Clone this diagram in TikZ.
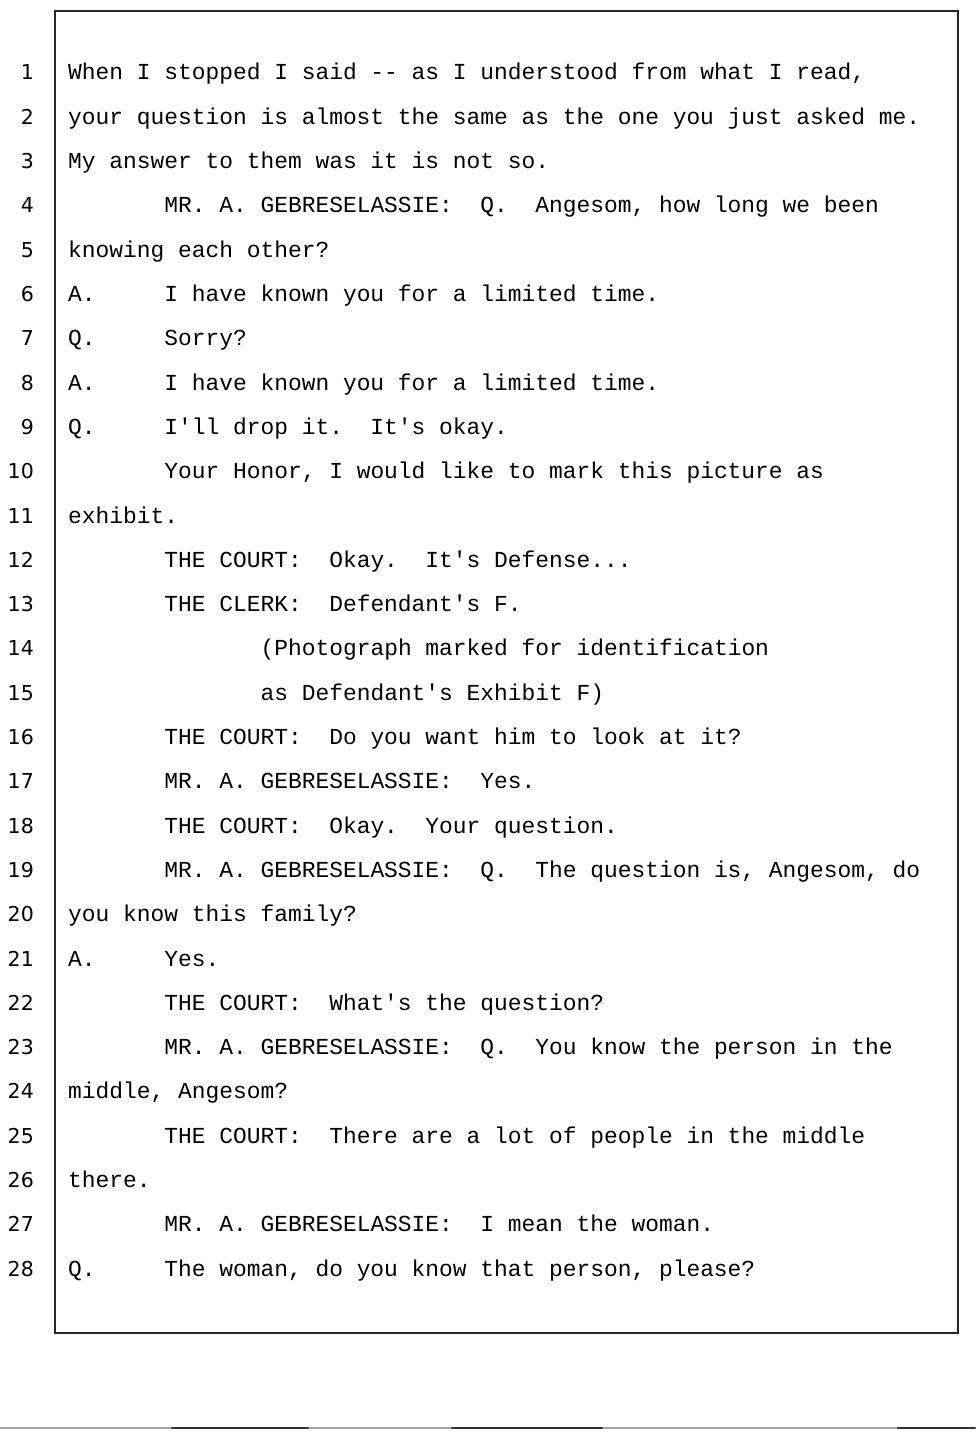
\documentclass[tikz,border=0pt]{standalone}
\usepackage{fontspec}
\setmonofont{Liberation Mono}
\newfontfamily\numfont{DejaVu Sans}
\begin{document}
\frenchspacing
\begin{tikzpicture}[x=1pt,y=-1pt,
  txt/.style={anchor=base west, inner sep=0pt, font=\ttfamily\fontsize{22.9}{22.9}\selectfont},
  num/.style={anchor=base east, inner sep=0pt, font=\numfont\fontsize{20.5}{20.5}\selectfont},
  frame/.style={line width=1.6pt, draw=black!85},
  pageline/.style={line width=1.2pt, draw=black!35, line cap=butt},
  pagedark/.style={line width=2.2pt, draw=black!80, line cap=round}]
\useasboundingbox (0,0) rectangle (975,1439);
\fill[white] (0,0) rectangle (975,1439);
% frame
\draw[frame] (55,11) rectangle (958,1333);
% page bottom line
\draw[pageline] (0,1428) -- (975,1428);
\draw[pagedark] (172,1428.3) -- (308,1428.3);
\draw[pagedark] (452,1428.3) -- (602,1428.3);
\draw[pagedark] (898,1428) -- (975,1428);
% line numbers
\foreach \n in {1,...,28} {
  \node[num] (n\n) at (34,{80+(\n-1)*44.3}) {\n};
}
% text lines
\def\xa{68}
\def\xb{164.2}
\def\xc{260.4}
\node[txt] (l1) at (\xa,80) {When I stopped I said -- as I understood from what I read,};
\node[txt] (l2) at (\xa,124.3) {your question is almost the same as the one you just asked me.};
\node[txt] (l3) at (\xa,168.6) {My answer to them was it is not so.};
\node[txt] (l4) at (\xb,212.9) {MR. A. GEBRESELASSIE:\ \ Q.\ \ Angesom, how long we been};
\node[txt] (l5) at (\xa,257.2) {knowing each other?};
\node[txt] (l6) at (\xa,301.5) {A.\ \ \ \ \ I have known you for a limited time.};
\node[txt] (l7) at (\xa,345.8) {Q.\ \ \ \ \ Sorry?};
\node[txt] (l8) at (\xa,390.1) {A.\ \ \ \ \ I have known you for a limited time.};
\node[txt] (l9) at (\xa,434.4) {Q.\ \ \ \ \ I'll drop it.\ \ It's okay.};
\node[txt] (l10) at (\xb,478.7) {Your Honor, I would like to mark this picture as};
\node[txt] (l11) at (\xa,523.0) {exhibit.};
\node[txt] (l12) at (\xb,567.3) {THE COURT:\ \ Okay.\ \ It's Defense...};
\node[txt] (l13) at (\xb,611.6) {THE CLERK:\ \ Defendant's F.};
\node[txt] (l14) at (\xc,655.9) {(Photograph marked for identification};
\node[txt] (l15) at (\xc,700.2) {as Defendant's Exhibit F)};
\node[txt] (l16) at (\xb,744.5) {THE COURT:\ \ Do you want him to look at it?};
\node[txt] (l17) at (\xb,788.8) {MR. A. GEBRESELASSIE:\ \ Yes.};
\node[txt] (l18) at (\xb,833.1) {THE COURT:\ \ Okay.\ \ Your question.};
\node[txt] (l19) at (\xb,877.4) {MR. A. GEBRESELASSIE:\ \ Q.\ \ The question is, Angesom, do};
\node[txt] (l20) at (\xa,921.7) {you know this family?};
\node[txt] (l21) at (\xa,966.0) {A.\ \ \ \ \ Yes.};
\node[txt] (l22) at (\xb,1010.3) {THE COURT:\ \ What's the question?};
\node[txt] (l23) at (\xb,1054.6) {MR. A. GEBRESELASSIE:\ \ Q.\ \ You know the person in the};
\node[txt] (l24) at (\xa,1098.9) {middle, Angesom?};
\node[txt] (l25) at (\xb,1143.2) {THE COURT:\ \ There are a lot of people in the middle};
\node[txt] (l26) at (\xa,1187.5) {there.};
\node[txt] (l27) at (\xb,1231.8) {MR. A. GEBRESELASSIE:\ \ I mean the woman.};
\node[txt] (l28) at (\xa,1276.1) {Q.\ \ \ \ \ The woman, do you know that person, please?};
\end{tikzpicture}
\end{document}
